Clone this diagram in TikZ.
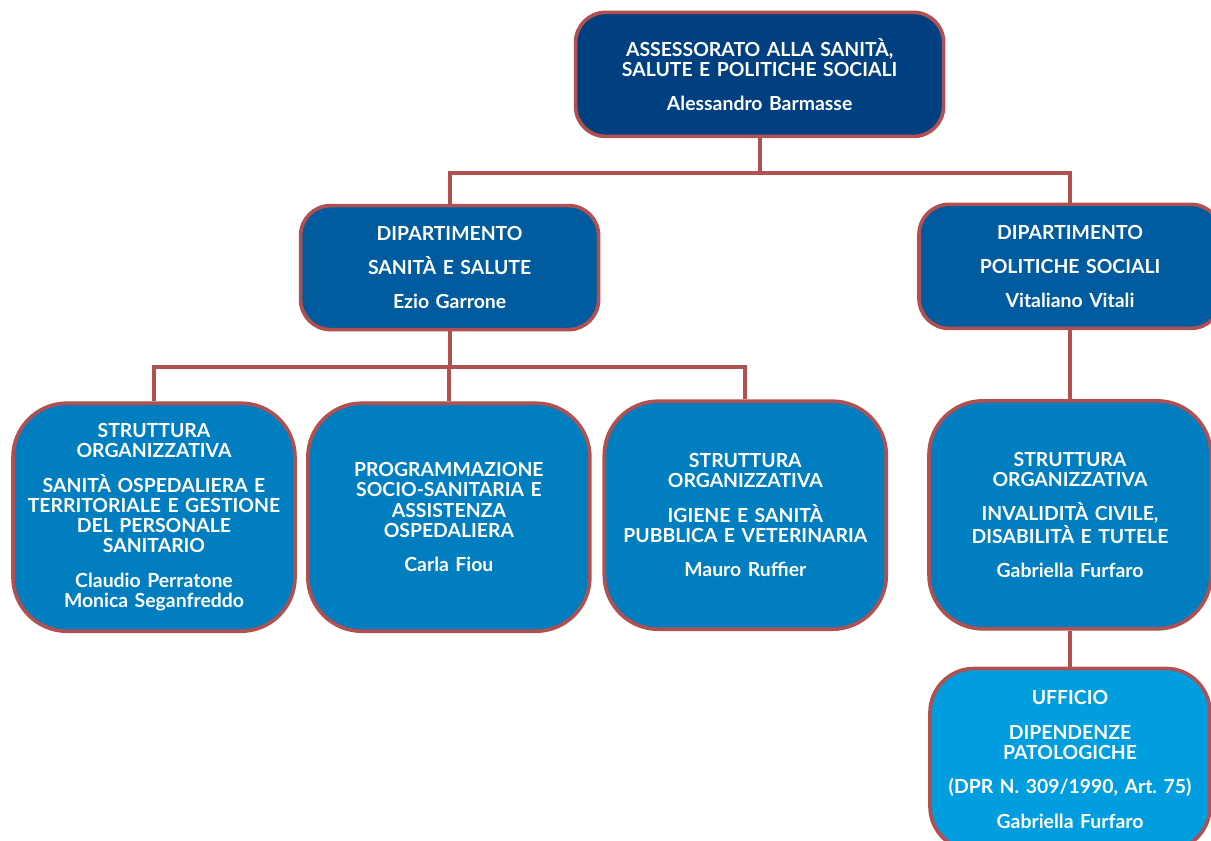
\documentclass[tikz,border=0pt]{standalone}
\usepackage{fontspec}
\setmainfont{Lato}
\usepackage{tikz}
\usetikzlibrary{positioning,calc}
\usepackage{xcolor}
\definecolor{edgered}{RGB}{176,80,80}
\definecolor{navyblue}{RGB}{0,63,128}
\definecolor{deptblue}{RGB}{0,92,158}
\definecolor{unitblue}{RGB}{0,126,192}
\definecolor{officeblue}{RGB}{0,158,222}
\frenchspacing

\begin{document}
\begin{tikzpicture}[
  orgbox/.style={rectangle, draw=edgered, line width=2.6pt, text=white,
    align=center, inner sep=0.2cm,
    font=\bfseries\fontsize{13.8}{14.4}\selectfont},
  topbox/.style={orgbox, fill=navyblue, rounded corners=0.75cm,
    minimum width=9.2cm, minimum height=3.1cm, text width=8.6cm},
  deptbox/.style={orgbox, fill=deptblue, rounded corners=0.75cm,
    minimum height=3.1cm, text width=7cm},
  unitbox/.style={orgbox, fill=unitblue, rounded corners=1.35cm,
    minimum height=5.7cm, text width=6.65cm, inner xsep=0.2cm},
  officebox/.style={orgbox, fill=officeblue, rounded corners=1.1cm,
    minimum height=4.55cm, text width=6.6cm, inner xsep=0.2cm},
  link/.style={draw=edgered, line width=2.8pt}
]
  \useasboundingbox (0,0) rectangle (30.275,-21.025);
  \clip (0,0) rectangle (30.275,-21.025);

  % Assessorato
  \node[topbox] (assess) at (18.99,-1.86)
    {ASSESSORATO ALLA SANITÀ,\\SALUTE E POLITICHE SOCIALI\\[10pt]Alessandro Barmasse};

  % Dipartimenti
  \node[deptbox, minimum width=7.45cm] (sanita) at (11.24,-6.69)
    {DIPARTIMENTO\\[10pt]SANITÀ E SALUTE\\[10pt]Ezio Garrone};
  \node[deptbox, minimum width=7.55cm] (sociali) at (26.75,-6.66)
    {DIPARTIMENTO\\[10pt]POLITICHE SOCIALI\\[10pt]Vitaliano Vitali};

  % Strutture organizzative
  \node[unitbox] (ospedal) at (3.85,-12.93)
    {STRUTTURA\\ORGANIZZATIVA\\[10pt]SANITÀ OSPEDALIERA E\\TERRITORIALE E GESTIONE\\DEL PERSONALE\\SANITARIO\\[10pt]Claudio Perratone\\Monica Seganfreddo};
  \node[unitbox, right=0.23cm of ospedal] (program)
    {PROGRAMMAZIONE\\SOCIO-SANITARIA E\\ASSISTENZA\\OSPEDALIERA\\[10pt]Carla Fiou};
  \node[unitbox, right=0.27cm of program, yshift=0.05cm] (igiene)
    {STRUTTURA\\ORGANIZZATIVA\\[10pt]IGIENE E SANITÀ\\PUBBLICA E VETERINARIA\\[10pt]Mauro Ruffier};
  \node[unitbox, below=1.72cm of sociali] (invalid)
    {STRUTTURA\\ORGANIZZATIVA\\[10pt]INVALIDITÀ CIVILE,\\DISABILITÀ E TUTELE\\[10pt]Gabriella Furfaro};

  % Ufficio
  \node[officebox, below=0.9cm of invalid] (dipend)
    {UFFICIO\\[10pt]DIPENDENZE\\PATOLOGICHE\\[10pt](DPR N. 309/1990, Art. 75)\\[10pt]Gabriella Furfaro};

  % Connectors
  \coordinate (hubtop) at ($(assess.south)+(0,-0.875)$);
  \coordinate (hubleft) at ($(sanita.south)+(0,-0.9)$);
  \draw[link] (assess.south) -- (hubtop);
  \draw[link] (hubtop) -| (sanita.north);
  \draw[link] (hubtop) -| (sociali.north);
  \draw[link] (sanita.south) -- (hubleft);
  \draw[link] (hubleft) -| (program.north);
  \draw[link] (hubleft) -| (ospedal.north);
  \draw[link] (hubleft) -| (igiene.north);
  \draw[link] (sociali.south) -- (invalid.north);
  \draw[link] (invalid.south) -- (dipend.north);
\end{tikzpicture}
\end{document}
